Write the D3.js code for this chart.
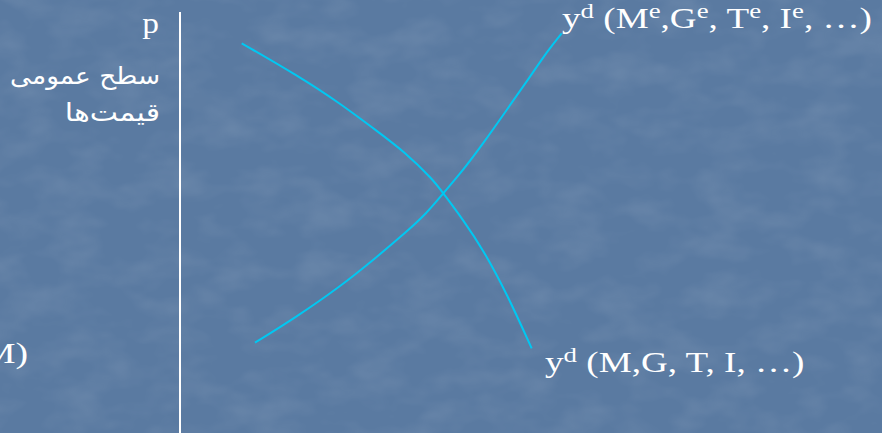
<!DOCTYPE html>
<html>
<head>
<meta charset="utf-8">
<script src="https://cdn.jsdelivr.net/npm/d3@7"></script>
<style>
  html, body { margin: 0; padding: 0; background: #5b7ba2; }
  svg { display: block; }
</style>
</head>
<body>
<svg id="chart" width="882" height="433"></svg>
<script>
// Aggregate demand curves in output / price-level space (arbitrary units 0–100)
const demandOutput   = [8.81, 16.67, 22.86, 27.61, 32.14, 36.19, 37.61, 40.47, 43.33, 46.67, 50.24];
const demandPrice    = [92.13, 84.63, 77.94, 72.03, 66.43, 59.81, 56.67, 50.35, 43.26, 33.03, 20.02];
const expectedOutput = [10.71, 16.67, 22.86, 27.61, 32.39, 35.24, 37.61, 40.47, 43.33, 46.67, 50.0, 52.61, 54.53];
const expectedPrice  = [21.35, 27.49, 34.59, 40.90, 47.59, 51.94, 56.67, 62.17, 68.49, 76.36, 84.23, 90.54, 94.49];

const W = 882, H = 433;
const svg = d3.select("#chart");

// textured slide background
const defs = svg.append("defs");
const f = defs.append("filter").attr("id", "grain")
  .attr("x", 0).attr("y", 0).attr("width", "100%").attr("height", "100%");
f.append("feTurbulence").attr("type", "fractalNoise")
  .attr("baseFrequency", "0.02 0.035").attr("numOctaves", 3).attr("seed", 7);
f.append("feColorMatrix").attr("type", "matrix")
  .attr("values", "0 0 0 0 1  0 0 0 0 1  0 0 0 0 1  0 0 0 0.55 -0.22");
f.append("feComposite").attr("in2", "SourceGraphic").attr("operator", "in");

svg.append("rect").attr("width", W).attr("height", H).attr("fill", "#5a7aa1");
svg.append("rect").attr("width", W).attr("height", H).attr("fill", "#fff")
  .attr("filter", "url(#grain)").attr("opacity", 0.3);

const x = d3.scaleLinear().domain([0, 100]).range([180, 880]);
const y = d3.scaleLinear().domain([0, 100]).range([433, 10]);

// vertical price axis
svg.append("line")
  .attr("x1", x(0)).attr("x2", x(0))
  .attr("y1", y(99.5)).attr("y2", H)
  .attr("stroke", "#ffffff").attr("stroke-width", 2);

const line = d3.line()
  .x(d => x(d[0])).y(d => y(d[1]))
  .curve(d3.curveBasis);

const curves = [
  d3.zip(demandOutput, demandPrice),
  d3.zip(expectedOutput, expectedPrice)
];

svg.selectAll("path.curve").data(curves).join("path")
  .attr("class", "curve")
  .attr("d", line)
  .attr("fill", "none")
  .attr("stroke", "#00c8f2")
  .attr("stroke-width", 2);

const serif = "'Liberation Serif', 'Times New Roman', serif";

// horizontally widened text, as on the slide
function wideText(xPos, yPos, sx, anchor) {
  return svg.append("g")
    .attr("transform", `translate(${xPos},${yPos}) scale(${sx},1)`)
    .append("text").attr("x", 0).attr("y", 0)
    .attr("text-anchor", anchor).attr("fill", "#fff");
}

wideText(159, 33, 1.15, "end")
  .attr("font-family", serif).attr("font-size", 29).text("p");

wideText(160, 84, 1.1, "start")
  .attr("direction", "rtl")
  .attr("font-family", "'DejaVu Sans', sans-serif").attr("font-size", 24)
  .text("سطح عمومی");
wideText(160, 121, 1.2, "start")
  .attr("direction", "rtl")
  .attr("font-family", "'DejaVu Sans', sans-serif").attr("font-size", 25)
  .text("قیمت‌ها");

wideText(28, 363, 1.3, "end")
  .attr("font-family", serif).attr("font-size", 29).text("M)");

// curve labels with superscripts
function label(xPos, yPos, parts) {
  const t = wideText(xPos, yPos, 1.28, "start")
    .attr("font-family", serif).attr("font-size", 29);
  parts.forEach(p => {
    const s = t.append("tspan").text(p.t);
    if (p.sup) s.attr("font-size", 21).attr("dy", -10);
    if (p.down) s.attr("dy", 10);
  });
}

label(562, 28, [
  {t: "y"}, {t: "d", sup: true}, {t: " (M", down: true}, {t: "e", sup: true},
  {t: ",G", down: true}, {t: "e", sup: true}, {t: ", T", down: true}, {t: "e", sup: true},
  {t: ", I", down: true}, {t: "e", sup: true}, {t: ", …)", down: true}
]);

label(545, 372, [
  {t: "y"}, {t: "d", sup: true}, {t: " (M,G, T, I, …)", down: true}
]);
</script>
</body>
</html>
